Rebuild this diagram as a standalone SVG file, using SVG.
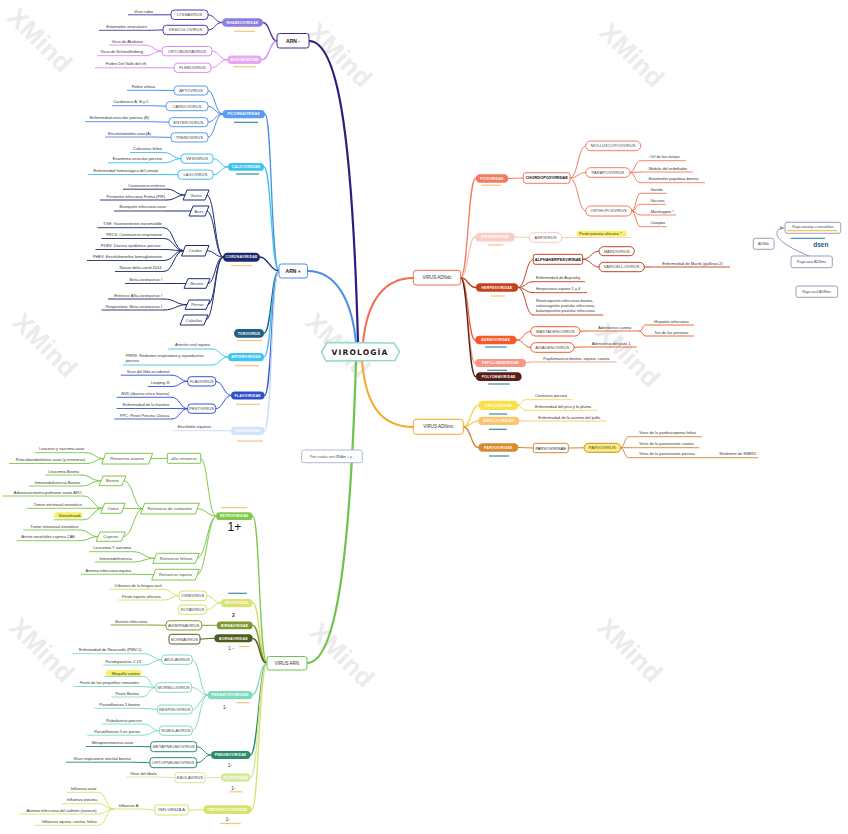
<svg xmlns="http://www.w3.org/2000/svg" width="848" height="834" viewBox="0 0 848 834">
<style>
text{font-family:"Liberation Sans",Arial,sans-serif}
.lf{font-size:4px;fill:#333;text-anchor:end}
.lr{font-size:4px;fill:#333;text-anchor:start}
.bt{font-size:4px;fill:#444;text-anchor:middle;letter-spacing:.1px}
.bb{font-size:4px;fill:#111;font-weight:bold;text-anchor:middle}
.pt{font-size:3.4px;font-weight:bold;fill:#fff;text-anchor:middle;letter-spacing:.25px}
.ul{fill:none;stroke-width:.9}
.bx{fill:#fff;stroke-width:1}
.mn{font-size:5px;font-weight:bold;fill:#222;text-anchor:middle}
.wm{font-size:26px;font-weight:bold;fill:#ebebeb;text-anchor:middle}
.n2{font-size:4.5px;fill:#333;text-anchor:middle}
.or{fill:none;stroke:#f8c47a;stroke-width:1.2}
.tl{fill:none;stroke:#3a8aa0;stroke-width:1.2}
.nt{font-size:3.6px;fill:#444;text-anchor:middle}
</style>
<defs>
<marker id="ah" viewBox="0 0 6 6" refX="5" refY="3" markerWidth="4" markerHeight="4" orient="auto"><path d="M0,0 L6,3 L0,6 Z" fill="#8796b8"/></marker>
</defs>
<rect width="848" height="834" fill="#fff"/>
<g id="watermark">
<text class="wm" x="40" y="49" transform="rotate(45 40 40)">XMind</text>
<text class="wm" x="340" y="64" transform="rotate(45 340 55)">XMind</text>
<text class="wm" x="632" y="64" transform="rotate(45 632 55)">XMind</text>
<text class="wm" x="45" y="354" transform="rotate(45 45 345)">XMind</text>
<text class="wm" x="338" y="354" transform="rotate(45 338 345)">XMind</text>
<text class="wm" x="628" y="364" transform="rotate(45 628 355)">XMind</text>
<text class="wm" x="42" y="659" transform="rotate(45 42 650)">XMind</text>
<text class="wm" x="342" y="664" transform="rotate(45 342 655)">XMind</text>
<text class="wm" x="630" y="659" transform="rotate(45 630 650)">XMind</text>
</g>

<g id="connectors" fill="none" stroke-linecap="round">
<path d="M358,343 C352,120 336,41 309,41" stroke="#2b1d7e" stroke-width="2.2"/>
<path d="M356,343 C352,300 336,271 307.5,271" stroke="#4a8fe0" stroke-width="2"/>
<path d="M356,361 C350,560 336,663 307,663" stroke="#6cc44a" stroke-width="2.2"/>
<path d="M363,343 C367,300 385,278 413.3,278" stroke="#f26d4f" stroke-width="2"/>
<path d="M362,361 C366,410 385,427 413.3,427" stroke="#f5a623" stroke-width="2"/>
<g stroke="#4b3aa8" stroke-width="1">
<path d="M277,41 C270,41 270,22.5 263,22.5" stroke-width="1.3"/>
<path d="M222,22.5 C215,22.5 215,14.8 208,14.8"/>
<path d="M222,22.5 C215,22.5 215,30 208,30"/>
<path d="M155,14.8 L171,14.8"/>
<path d="M149,30.3 C156,30.3 156,30 163,30"/>
</g>
<g stroke="#dc8cf2" stroke-width="1">
<path d="M277,41 C269.5,41 269.5,59.7 262,59.7" stroke-width="1.3"/>
<path d="M227,59.7 C219.5,59.7 219.5,51.2 212,51.2"/>
<path d="M227,59.7 C219,59.7 219,67.8 211,67.8"/>
<path d="M145,45 C153.5,45 153.5,51.2 162,51.2"/>
<path d="M145,55.7 C153.5,55.7 153.5,51.2 162,51.2"/>
<path d="M148,67.8 L174,67.8"/>
</g>
<g stroke="#4a8ee8" stroke-width="1">
<path d="M279,271 C271,271 272,114 265,114" stroke-width="1.3"/>
<path d="M222.5,114 C215,114 215,90.5 208,90.5"/>
<path d="M222.5,114 C215,114 215,106.2 208,106.2"/>
<path d="M222.5,114 C215,114 215,122.2 208,122.2"/>
<path d="M222.5,114 C215,114 215,137.4 208,137.4"/>
<path d="M157,90.3 L174,90.5"/>
<path d="M151,105.7 L166,106.2"/>
<path d="M151,121.7 L169,122.2"/>
<path d="M153,137 L171,137.4"/>
</g>
<g stroke="#40c0f0" stroke-width="1">
<path d="M279,271 C271,271 271.5,167 264,167" stroke-width="1.3"/>
<path d="M228,167 C220.5,167 220.5,158.7 213,158.7"/>
<path d="M228,167 C220.5,167 220.5,174.7 213,174.7"/>
<path d="M164,152.5 C172.5,152.5 172.5,158.7 181,158.7"/>
<path d="M164,162.8 C172.5,162.8 172.5,158.7 181,158.7"/>
<path d="M160,174.5 L178,174.7"/>
</g>
<g stroke="#1e2c6e" stroke-width="1">
<path d="M279,271 C270,271 268,257 260,257" stroke-width="1.3"/>
<path d="M223,257 C215,257 215,195 207,195"/>
<path d="M223,257 C215,257 215,211 207,211"/>
<path d="M223,257 C215,257 215,250.7 207,250.7"/>
<path d="M223,257 C215,257 215.5,283.5 208,283.5"/>
<path d="M223,257 C215,257 215.5,304.7 208,304.7"/>
<path d="M223,257 C215,257 214.5,320 206,320"/>
<path d="M167,189.2 C176,189.2 176,195 185,195"/>
<path d="M167,200 C176,200 176,195 185,195"/>
<path d="M168,211 L191,211"/>
<path d="M164,227.7 C174,227.7 173.5,250.7 183.5,250.7"/>
<path d="M164,238.5 C174,238.5 173.5,250.7 183.5,250.7"/>
<path d="M164,249.5 C174,249.5 173.5,250.7 183.5,250.7"/>
<path d="M164,260.5 C174,260.5 173.5,250.7 183.5,250.7"/>
<path d="M164,271.5 C174,271.5 173.5,250.7 183.5,250.7"/>
<path d="M164,283.5 L186,283.5"/>
<path d="M164,299 C175.5,299 175.5,304.7 187,304.7"/>
<path d="M164,310 C175.5,310 175.5,304.7 187,304.7"/>
</g>
<path d="M279,271 C271,271 271.5,333.3 264,333.3" stroke="#1f5f80" stroke-width="1.3"/>
<g stroke="#40c4f0" stroke-width="1">
<path d="M279,271 C271,271 271.5,357 264,357" stroke-width="1.3"/>
<path d="M212,349 C220,349 220,357 228,357"/>
<path d="M212,365 C220,365 220,357 228,357"/>
</g>
<g stroke="#3355d8" stroke-width="1">
<path d="M279,271 C271,271 272,395.5 264.5,395.5" stroke-width="1.3"/>
<path d="M231,395.5 C223.5,395.5 223.5,381.3 215.7,381.3"/>
<path d="M231,395.5 C223.5,395.5 223.5,408.7 215.7,408.7"/>
<path d="M172,375.2 C180,375.2 180,381.3 187.7,381.3"/>
<path d="M172,386.5 C180,386.5 180,381.3 187.7,381.3"/>
<path d="M172,397.3 C180,397.3 180,408.7 187.7,408.7"/>
<path d="M172,408.5 L187.7,408.7"/>
<path d="M172,419 C180,419 180,408.7 187.7,408.7"/>
</g>
<g stroke="#c8daf6" stroke-width="1">
<path d="M279,271 C271,271 272,430.8 264.5,430.8" stroke-width="1.3"/>
<path d="M213,430.7 L231,430.8"/>
</g>
<g stroke="#7cc84a" stroke-width="1">
<path d="M267,663.3 C259,663.3 260,516.2 252.7,516.2" stroke-width="1.3"/>
<path d="M216,516.2 C208,516.2 208,458.3 200.7,458.3"/>
<path d="M216,516.2 C208,516.2 206,508.7 197.3,508.7"/>
<path d="M216,516.2 C208,516.2 206,558.3 197.3,558.3"/>
<path d="M216,516.2 C208,516.2 206,574.7 197.3,574.7"/>
<path d="M167.3,458.3 L150.7,458.7"/>
<path d="M86,452.7 C95,452.7 95,458.7 103.7,458.7"/>
<path d="M87,463.5 C95,463.5 95,458.7 103.7,458.7"/>
<path d="M142.7,508.7 C134,508.7 133,480.8 124,480.8"/>
<path d="M142.7,508.7 L123.3,508.3"/>
<path d="M142.7,508.7 C134,508.7 133,536.7 123.3,536.7"/>
<path d="M81,475 C91,475 91,480.8 101,480.8"/>
<path d="M82,486 C91,486 91,480.8 101,480.8"/>
<path d="M84,496 C93,496 93,508.3 102.7,508.3"/>
<path d="M84,508.3 L102.7,508.3"/>
<path d="M84,519.8 C93,519.8 93,508.3 102.7,508.3"/>
<path d="M80,530 C89,530 89,536.7 98,536.7"/>
<path d="M80,540.7 C89,540.7 89,536.7 98,536.7"/>
<path d="M133,551.7 C144,551.7 144,558.3 154.7,558.3"/>
<path d="M133,562 C144,562 144,558.3 154.7,558.3"/>
<path d="M133,574.3 L153.7,574.7"/>
</g>
<g stroke="#d6e06a" stroke-width="1">
<path d="M267,663.3 C259,663.3 260,603 252.7,603" stroke-width="1.3"/>
<path d="M221,603 C213.5,603 213.5,595.8 206.7,595.8"/>
<path d="M221,603 C213.5,603 213.5,609.7 206.7,609.7"/>
<path d="M164,589.3 C171.5,589.3 171.5,595.8 179,595.8"/>
<path d="M164,600 C171.5,600 171.5,595.8 179,595.8"/>
</g>
<g stroke="#7f9b2e" stroke-width="1">
<path d="M267,663.3 C259,663.3 260,625.3 252.7,625.3" stroke-width="1.3"/>
<path d="M216.7,625.3 L201.7,625.3"/>
<path d="M150,625 L166,625.3"/>
</g>
<g stroke="#4f5b1c" stroke-width="1">
<path d="M267,663.3 C259,663.3 260,638.3 252.7,638.3" stroke-width="1.3"/>
<path d="M214.3,638.3 C207,638.3 207,639 200,639"/>
</g>
<g stroke="#80dcc0" stroke-width="1">
<path d="M267,663.3 C259,663.3 259.5,695 252,695" stroke-width="1.3"/>
<path d="M207.5,695 C200,695 200,659.7 192.3,659.7"/>
<path d="M207.5,695 C200,695 200,687.5 191.7,687.5"/>
<path d="M207.5,695 C200,695 200,709.5 192.3,709.5"/>
<path d="M207.5,695 C200,695 200,730.7 192.3,730.7"/>
<path d="M144,653.7 C153,653.7 153,659.7 161.7,659.7"/>
<path d="M144,665 C153,665 153,659.7 161.7,659.7"/>
<path d="M144,676.5 C150,676.5 150,687.5 155.7,687.5"/>
<path d="M142,686.5 L155.7,687.5"/>
<path d="M142,697 C149,697 149,687.5 155.7,687.5"/>
<path d="M142,708.3 L157.3,709.5"/>
<path d="M144,724 C151.5,724 151.5,730.7 159.3,730.7"/>
<path d="M142,735.2 C151,735.2 151,730.7 159.3,730.7"/>
</g>
<g stroke="#2d8b69" stroke-width="1">
<path d="M267,663.3 C259,663.3 258,755 250.5,755" stroke-width="1.3"/>
<path d="M211,755 C204,755 204,746.7 196.7,746.7"/>
<path d="M211,755 C204,755 204,762.7 196.7,762.7"/>
<path d="M136,746.5 L150.7,746.7"/>
<path d="M133,762.2 L150,762.7"/>
</g>
<g stroke="#d5e8a0" stroke-width="1">
<path d="M267,663.3 C259,663.3 258,777.5 250.7,777.5" stroke-width="1.3"/>
<path d="M220.7,777.5 L205,777.7"/>
<path d="M159,777 L175,777.7"/>
</g>
<g stroke="#d8e26c" stroke-width="1">
<path d="M267,663.3 C259,663.3 259,809.7 251.7,809.7" stroke-width="1.3"/>
<path d="M203.3,809.7 C196,809.7 196,810 188.3,810"/>
<path d="M141,809 L155,810"/>
<path d="M99,792.3 C106,792.3 106,809 113.3,809"/>
<path d="M99,803.7 C106,803.7 106,809 113.3,809"/>
<path d="M99,814 C106,814 106,809 113.3,809"/>
<path d="M99,825.3 C106,825.3 106,809 113.3,809"/>
</g>
<g stroke="#f47c5e" stroke-width="1">
<path d="M460.7,277.7 C468,277.7 468,178.5 475.7,178.5" stroke-width="1.3"/>
<path d="M508.3,178.5 L523.3,178"/>
<path d="M570,178 C578,178 578,145.8 585.7,145.8"/>
<path d="M570,178 C578,178 578,172.5 585.7,172.5"/>
<path d="M570,178 C578,178 578,211 585.7,211"/>
<path d="M630,172.5 C635,172.5 635,160.7 640,160.7"/>
<path d="M630,172.5 L640,172"/>
<path d="M630,172.5 C635,172.5 635,182.7 640,182.7"/>
<path d="M631.7,211 C636,211 636,193.3 640,193.3"/>
<path d="M631.7,211 C636,211 636,204.3 640,204.3"/>
<path d="M631.7,211 C636,211 636,215 640,215"/>
<path d="M631.7,211 C636,211 636,226.7 640,226.7"/>
</g>
<g stroke="#f8c8bc" stroke-width="1">
<path d="M460.7,277.7 C468,277.7 468,237 475,237" stroke-width="1.3"/>
<path d="M515,237 L529.3,237.5"/>
<path d="M561.7,237.5 L570,237.5"/>
</g>
<g stroke="#c0451e" stroke-width="1">
<path d="M460.7,277.7 C468,277.7 468,287.5 475.7,287.5" stroke-width="1.3"/>
<path d="M518.3,287.5 C525.8,287.5 525.8,259.3 533.3,259.3"/>
<path d="M518.3,287.5 C525.5,287.5 525.5,281.7 533,281.7"/>
<path d="M518.3,287.5 C525.5,287.5 525.5,292.7 533,292.7"/>
<path d="M518.3,287.5 C525.5,287.5 525.5,315 533,315"/>
<path d="M582.7,259.3 C591,259.3 591,251.2 599,251.2"/>
<path d="M582.7,259.3 C591,259.3 591,267 599,267"/>
<path d="M644.3,267 L650,267"/>
</g>
<g stroke="#f35a2c" stroke-width="1">
<path d="M460.7,277.7 C468,277.7 468,340 475,340" stroke-width="1.3"/>
<path d="M516.7,340 C523.7,340 523.7,331.3 530.7,331.3"/>
<path d="M516.7,340 C523.7,340 523.7,347.5 530.7,347.5"/>
<path d="M580,331.3 L586,331"/>
<path d="M640,331 C642.5,331 642.5,325 645,325"/>
<path d="M640,331 C642.5,331 642.5,336 645,336"/>
<path d="M574,347.5 L580,347"/>
</g>
<g stroke="#f59a88" stroke-width="1">
<path d="M460.7,277.7 C468,277.7 468,363 475,363" stroke-width="1.3"/>
<path d="M526,363 L530,362"/>
</g>
<path d="M460.7,277.7 C468,277.7 468,376.7 475.7,376.7" stroke="#5a2018" stroke-width="1.3"/>
<g stroke="#f8d84a" stroke-width="1">
<path d="M463.3,426.8 C471,426.8 471,405.3 478.3,405.3" stroke-width="1.3"/>
<path d="M518.3,405.3 C521.6,405.3 521.6,399.7 525,399.7"/>
<path d="M518.3,405.3 C521.6,405.3 521.6,410.3 525,410.3"/>
</g>
<g stroke="#f8c470" stroke-width="1">
<path d="M463.3,426.8 C471,426.8 471,420.8 478.3,420.8" stroke-width="1.3"/>
<path d="M519.3,420.8 L525,421"/>
</g>
<g stroke="#d8862e" stroke-width="1">
<path d="M463.3,426.8 C471,426.8 471,447.5 478.3,447.5" stroke-width="1.3"/>
<path d="M518.3,447.5 L533.3,448"/>
<path d="M568.3,448 L584,447.8"/>
<path d="M620.7,447.8 C624.5,447.8 624.5,436.7 628.3,436.7"/>
<path d="M620.7,447.8 L628.3,447.7"/>
<path d="M620.7,447.8 C624.5,447.8 624.5,457.7 628.3,457.7"/>
</g>
<path d="M809,256 C790,248 776,240 777,232.5 C777.5,229.5 780,228 783.5,228" stroke="#8796b8" stroke-width="1" marker-end="url(#ah)"/>
</g>

<g id="virologia"><path d="M327,342.5 L394,343 L399.5,351.5 L395,360.5 L326,361 L321.5,352 Z" fill="#fff" stroke="#8edbc5" stroke-width="1.5" stroke-linejoin="round"/><text x="360" y="355" text-anchor="middle" style="font-family:'DejaVu Sans',sans-serif;font-size:7.6px;font-weight:bold;letter-spacing:1.1px;fill:#1a1a1a">VIROLOGÍA</text></g>
<g id="nota-rnam"><rect class="bx" x="301.7" y="450" width="60.6" height="12.7" rx="2.5" stroke="#b0b8d0"/><text class="nt" x="332" y="457.7" style="fill:#555">Pon cuales son RNAm + y -</text></g>

<g id="arn-minus"><rect class="bx" x="277" y="33.5" width="32" height="14.5" rx="2.5" stroke="#3d2d96" stroke-width="1.3"/><text class="mn" x="293" y="42.6">ARN -</text></g>
<g id="rhabdoviridae"><rect x="222" y="18.2" width="41" height="8.6" rx="4.3" fill="#8c7ce6"/><text class="pt" x="242.5" y="23.7">RHABDOVIRIDAE</text><path class="or" d="M234,31.3H255"/></g>
<g id="lyssavirus"><rect class="bx" x="171" y="10" width="37" height="9.5" rx="3.5" stroke="#4b3aa8"/><text class="bt" x="189.5" y="16.2">LYSSAVIRUS</text></g>
<g id="vesiculovirus"><rect class="bx" x="163" y="25.3" width="45" height="9.4" rx="3.5" stroke="#4b3aa8"/><text class="bt" x="185.5" y="31.4">VESICULOVIRUS</text></g>
<g id="l-rabia"><text class="lf" x="153" y="12.6">Virus rabia</text><path class="ul" stroke="#4b3aa8" d="M128,14.8H155"/></g>
<g id="l-estomatitis"><text class="lf" x="147" y="27.6">Estomatitis vesiculares</text><path class="ul" stroke="#4b3aa8" d="M99,30.3H149"/></g>
<g id="bunyaviridae"><rect x="227" y="55.5" width="35" height="8.5" rx="4.2" fill="#e6a8f6"/><text class="pt" x="244.5" y="60.9">BUNYAVIRIDAE</text><path class="or" d="M233,66.7H256"/></g>
<g id="ortobunyavirus"><rect class="bx" x="162" y="46.5" width="50" height="9.3" rx="3.5" stroke="#dc8cf2"/><text class="bt" x="187" y="52.6">ORTOBUNYAVIRUS</text></g>
<g id="flebovirus"><rect class="bx" x="174" y="63.2" width="37" height="9.2" rx="3.5" stroke="#dc8cf2"/><text class="bt" x="192.5" y="69.3">FLEBOVIRUS</text></g>
<g id="l-akabane"><text class="lf" x="143" y="42.7">Virus de Akabane</text><path class="ul" stroke="#dc8cf2" d="M109,45H145"/></g>
<g id="l-schmallenberg"><text class="lf" x="143" y="53.3">Virus de Schmallenberg</text><path class="ul" stroke="#dc8cf2" d="M97,55.7H145"/></g>
<g id="l-rift"><text class="lf" x="146" y="65.2">Fiebre Del Valle del rift</text><path class="ul" stroke="#dc8cf2" d="M95,67.8H148"/></g>

<g id="arn-plus"><rect class="bx" x="279" y="264" width="28.5" height="14" rx="2.5" stroke="#4a8fe0" stroke-width="1.3"/><text class="mn" x="293.2" y="272.8">ARN +</text></g>
<g id="picornaviridae"><rect x="222.5" y="110" width="42.5" height="8.3" rx="4.1" fill="#5b9cf5"/><text class="pt" x="243.7" y="115.3">PICORNAVIRIDAE</text><path class="tl" d="M234,122.3H258"/></g>
<g id="aftovirus"><rect class="bx" x="174" y="86" width="34" height="9" rx="3.5" stroke="#5a9af0"/><text class="bt" x="191" y="92">AFTOVIRUS</text></g>
<g id="cardiovirus"><rect class="bx" x="166" y="101.7" width="42" height="9" rx="3.5" stroke="#5a9af0"/><text class="bt" x="187" y="107.6">CARDIOVIRUS</text></g>
<g id="enterovirus"><rect class="bx" x="169" y="117.7" width="39" height="9" rx="3.5" stroke="#5a9af0"/><text class="bt" x="188.5" y="123.6">ENTEROVIRUS</text></g>
<g id="tremovirus"><rect class="bx" x="171" y="132.8" width="37" height="9.2" rx="3.5" stroke="#5a9af0"/><text class="bt" x="189.5" y="138.8">TREMOVIRUS</text></g>
<g id="l-aftosa"><text class="lf" x="155" y="87.6">Fiebre aftosa</text><path class="ul" stroke="#4a8ee8" d="M127,90.3H157"/></g>
<g id="l-cardio"><text class="lf" x="149" y="103.3">Cardiovirus A, B y C</text><path class="ul" stroke="#4a8ee8" d="M112,105.7H151"/></g>
<g id="l-vesicular"><text class="lf" x="149" y="119.2">Enfermedad vesicular porcina (B)</text><path class="ul" stroke="#4a8ee8" d="M85,121.7H151"/></g>
<g id="l-encefalomielitis"><text class="lf" x="151" y="134.5">Encefalomielitis aviar(A)</text><path class="ul" stroke="#4a8ee8" d="M105,137H153"/></g>
<g id="caliciviridae"><rect x="228" y="163" width="36" height="7.8" rx="3.9" fill="#3ec3f5"/><text class="pt" x="246" y="168.1">CALICIVIRIDAE</text><path class="tl" d="M236,174H259"/></g>
<g id="vesivirus"><rect class="bx" x="181" y="154" width="32" height="9.3" rx="3.5" stroke="#40c0f0"/><text class="bt" x="197" y="160.1">VESIVIRUS</text></g>
<g id="lagovirus"><rect class="bx" x="178" y="170" width="35" height="9.3" rx="3.5" stroke="#40c0f0"/><text class="bt" x="195.5" y="176.1">LAGOVIRUS</text></g>
<g id="l-calicifelino"><text class="lf" x="162" y="150">Calicivirus felino</text><path class="ul" stroke="#40c0f0" d="M130,152.5H164"/></g>
<g id="l-exantema"><text class="lf" x="162" y="160.4">Exantema vesicular porcino</text><path class="ul" stroke="#40c0f0" d="M108,162.8H164"/></g>
<g id="l-hemorragica"><text class="lf" x="158" y="171.8">Enfermedad hemorrágica del conejo</text><path class="ul" stroke="#40c0f0" d="M88,174.5H160"/></g>

<g id="coronaviridae"><rect x="223" y="252.7" width="37" height="9" rx="4.5" fill="#1b2a6b"/><text class="pt" x="241.5" y="258.4">CORONAVIRIDAE</text><path class="or" d="M231,265.5H252"/></g>
<g id="gatos"><polygon class="bx" points="187,190 209,190 205,200 183,200" stroke="#1e2c6e"/><text class="bt" x="196" y="196.5">Gatos</text></g>
<g id="aves"><polygon class="bx" points="193,206 209,206 205,216 189,216" stroke="#1e2c6e"/><text class="bt" x="199" y="212.5">Aves</text></g>
<g id="cerdos"><polygon class="bx" points="185.5,245.5 209,245.5 205,256 181.5,256" stroke="#1e2c6e"/><text class="bt" x="195.2" y="252.2">Cerdos</text></g>
<g id="bovino-c"><polygon class="bx" points="188,278.7 210,278.7 206,288.3 184,288.3" stroke="#1e2c6e"/><text class="bt" x="197" y="285">Bovino</text></g>
<g id="perros"><polygon class="bx" points="189,300 210,300 206,309.3 185,309.3" stroke="#1e2c6e"/><text class="bt" x="197.5" y="306.1">Perros</text></g>
<g id="caballos"><polygon class="bx" points="184,315 208,315 204,325 180,325" stroke="#1e2c6e"/><text class="bt" x="194" y="321.5">Caballos</text></g>
<g id="l-corent"><text class="lf" x="165" y="186.7">Coronavirus entérico</text><path class="ul" stroke="#1e2c6e" d="M123,189.2H167"/></g>
<g id="l-pif"><text class="lf" x="165" y="197.5">Peritonitis infecciosa Felina (PIF)</text><path class="ul" stroke="#1e2c6e" d="M100,200H167"/></g>
<g id="l-bronquitis"><text class="lf" x="166" y="208.4">Bronquitis infecciosa aviar</text><path class="ul" stroke="#1e2c6e" d="M114,211H168"/></g>
<g id="l-tge"><text class="lf" x="162" y="225.2">TGE: Gastroenteritis transmisible</text><path class="ul" stroke="#1e2c6e" d="M97.5,227.7H164"/></g>
<g id="l-prcv"><text class="lf" x="162" y="236">PRCV: Coronavirus respiratorio</text><path class="ul" stroke="#1e2c6e" d="M101.5,238.5H164"/></g>
<g id="l-pdev"><text class="lf" x="160.5" y="247">PDEV: Diarrea epidémica porcina</text><path class="ul" stroke="#1e2c6e" d="M95.5,249.5H164"/></g>
<g id="l-phev"><text class="lf" x="162" y="258">PHEV: Encefalomielitis hemaglutinante</text><path class="ul" stroke="#1e2c6e" d="M87,260.5H164"/></g>
<g id="l-delta"><text class="lf" x="161.5" y="269">Nuevo delta-covid 2014</text><path class="ul" stroke="#1e2c6e" d="M115,271.5H164"/></g>
<g id="l-betacor"><text class="lf" x="162" y="281">Beta-coronavirus I</text><path class="ul" stroke="#1e2c6e" d="M125,283.5H164"/></g>
<g id="l-alfacor"><text class="lf" x="162" y="296.5">Entérico: Alfa-coronavirus I</text><path class="ul" stroke="#1e2c6e" d="M108,299H164"/></g>
<g id="l-respcor"><text class="lf" x="162" y="307.5">Respiratorio: Beta-coronavirus I</text><path class="ul" stroke="#1e2c6e" d="M101.5,310H164"/></g>

<g id="torovirus"><rect x="234" y="329" width="30" height="8.7" rx="4.3" fill="#1f5f80"/><text class="pt" x="249" y="334.5">TOROVIRUS</text><path class="or" d="M237,340.5H262"/></g>
<g id="arteriviridae"><rect x="228" y="353" width="36" height="8.3" rx="4.1" fill="#42c4f2"/><text class="pt" x="246" y="358.3">ARTERIVIRIDAE</text><path class="or" d="M235,365.7H259"/></g>
<g id="l-arteritis"><text class="lf" x="210" y="346.4">Arteritis viral equina</text><path class="ul" stroke="#40c4f0" d="M168,349H212"/></g>
<g id="l-prrs"><text class="lr" x="125.7" y="357.2">PRRS: Síndrome respiratorio y reproductivo</text><text class="lr" x="125.7" y="362.4">porcino</text><path class="ul" stroke="#40c4f0" d="M122.7,365H212"/></g>
<g id="flaviviridae"><rect x="231" y="391.5" width="33.5" height="8" rx="4" fill="#2e4fc9"/><text class="pt" x="247.7" y="396.7">FLAVIVIRIDAE</text><path class="or" d="M236,404.3H260"/></g>
<g id="flavivirus"><rect class="bx" x="187.7" y="376.7" width="28" height="9.3" rx="3.5" stroke="#3355d8"/><text class="bt" x="201.7" y="382.8">FLAVIVIRUS</text></g>
<g id="pestivirus"><rect class="bx" x="187.7" y="404" width="28" height="9.3" rx="3.5" stroke="#3355d8"/><text class="bt" x="201.7" y="410.1">PESTIVIRUS</text></g>
<g id="l-nilo"><text class="lf" x="169.3" y="372.7">Virus del Nilo occidental</text><path class="ul" stroke="#3355d8" d="M120.7,375.2H172"/></g>
<g id="l-looping"><text class="lf" x="169.3" y="384">Looping Ill</text><path class="ul" stroke="#3355d8" d="M147.7,386.5H172"/></g>
<g id="l-bvd"><text class="lf" x="169.3" y="394.8">BVD (diarrea vírica bovina)</text><path class="ul" stroke="#3355d8" d="M116.7,397.3H172"/></g>
<g id="l-frontera"><text class="lf" x="169.3" y="406">Enfermedad de la frontera</text><path class="ul" stroke="#3355d8" d="M116.7,408.5H172"/></g>
<g id="l-ppc"><text class="lf" x="169.3" y="416.5">PPC: Peste Porcina Clásica</text><path class="ul" stroke="#3355d8" d="M114.3,419H172"/></g>
<g id="togaviridae"><rect x="231" y="426.7" width="33.5" height="8.3" rx="4.1" fill="#d4e2f9"/><text class="pt" x="247.7" y="432">TOGAVIRIDAE</text><path class="or" d="M237,441H263"/></g>
<g id="l-encefalitis"><text class="lf" x="211" y="428.2">Encefalitis equinas</text><path class="ul" stroke="#c8daf6" d="M172.7,430.7H213"/></g>

<g id="virus-arn"><rect class="bx" x="267" y="656.5" width="40" height="13.5" rx="2.5" stroke="#6cc44a" stroke-width="1.3"/><text class="n2" x="287" y="664.9">VIRUS ARN</text></g>
<g id="retroviridae"><rect x="216" y="512.3" width="36.7" height="7.8" rx="3.9" fill="#7fca4c"/><text class="pt" x="234.3" y="517.4">RETROVIRIDAE</text><path class="or" d="M220.7,507.7H247.3"/><text x="234.3" y="530.5" text-anchor="middle" style="font-size:12px;fill:#111">1+</text></g>
<g id="alfa-retrovirus"><rect class="bx" x="167.3" y="453.3" width="33.4" height="10" rx="0.8" stroke="#7cc84a"/><text class="bt" x="184" y="459.8">alfa-retrovirus</text></g>
<g id="retro-aviares"><polygon class="bx" points="105.7,453.3 152.7,453.3 148.7,464 101.7,464" stroke="#7cc84a"/><text class="bt" x="127.2" y="460.1">Retrovirus aviares</text></g>
<g id="retro-rumiantes"><polygon class="bx" points="144.7,503.3 199.3,503.3 195.3,514 140.7,514" stroke="#7cc84a"/><text class="bt" x="170" y="510.1">Retrovirus de rumiantes</text></g>
<g id="retro-felinos"><polygon class="bx" points="156.7,553.3 199.3,553.3 195.3,563.3 152.7,563.3" stroke="#7cc84a"/><text class="bt" x="176" y="559.8">Retrovirus felinos</text></g>
<g id="retro-equino"><polygon class="bx" points="155.7,569.3 199.3,569.3 195.3,580 151.7,580" stroke="#7cc84a"/><text class="bt" x="175.5" y="576.1">Retrovirus equino</text></g>
<g id="bovino-r"><polygon class="bx" points="103,476 126,476 122,485.7 99,485.7" stroke="#7cc84a"/><text class="bt" x="112.5" y="482.3">Bovino</text></g>
<g id="ovino"><polygon class="bx" points="104.7,503.3 125.3,503.3 121.3,513.3 100.7,513.3" stroke="#7cc84a"/><text class="bt" x="113" y="509.8">Ovino</text></g>
<g id="caprino"><polygon class="bx" points="100,532 125.3,532 121.3,541.3 96,541.3" stroke="#7cc84a"/><text class="bt" x="110.7" y="538.1">Caprino</text></g>
<g id="l-leucosis"><text class="lf" x="84.3" y="450.2">Leucosis y sarcoma aviar</text><path class="ul" stroke="#7cc84a" d="M35,452.7H86"/></g>
<g id="l-reticulo"><text class="lf" x="85" y="461">Reticuloendoteliosis aviar (γ-retrovirus)</text><path class="ul" stroke="#7cc84a" d="M9,463.5H87"/></g>
<g id="l-leucemiabov"><text class="lf" x="79" y="472.5">Leucemia Bovina</text><path class="ul" stroke="#7cc84a" d="M45,475H81"/></g>
<g id="l-inmunobov"><text class="lf" x="80" y="483.5">Inmunodeficiencia Bovina</text><path class="ul" stroke="#7cc84a" d="M29,486H82"/></g>
<g id="l-apo"><text class="lf" x="81.7" y="493.5">Adenocarcinoma pulmonar ovino APO</text><path class="ul" stroke="#7cc84a" d="M2.7,496H84"/></g>
<g id="l-tumor1"><text class="lf" x="81.7" y="505.6">Tumor intranasal enzoótico</text><path class="ul" stroke="#7cc84a" d="M26.7,508.3H84"/></g>
<g id="l-visna"><rect x="54.3" y="512.3" width="28" height="6.3" rx="2.5" fill="#f6f06a"/><text class="lf" x="80.5" y="516.9">Visna/maedi</text><path class="ul" stroke="#7cc84a" d="M54,519.8H84"/></g>
<g id="l-tumor2"><text class="lf" x="78.3" y="527.5">Tumor intranasal enzoótico</text><path class="ul" stroke="#7cc84a" d="M23.3,530H80"/></g>
<g id="l-cae"><text class="lf" x="75" y="538.2">Artritis encefalitis caprina CAE</text><path class="ul" stroke="#7cc84a" d="M16.7,540.7H80"/></g>
<g id="l-leucfel"><text class="lf" x="131" y="549.2">Leucemia Y sarcoma</text><path class="ul" stroke="#7cc84a" d="M89.3,551.7H133"/></g>
<g id="l-inmunofel"><text class="lf" x="131.7" y="559.5">Inmunodeficiencia</text><path class="ul" stroke="#7cc84a" d="M95,562H133"/></g>
<g id="l-anemiaeq"><text class="lf" x="131" y="571.7">Anemia infecciosa equina</text><path class="ul" stroke="#7cc84a" d="M81,574.3H133"/></g>

<g id="reoviridae"><rect x="221" y="599" width="31.7" height="8.3" rx="4.1" fill="#d9e36d"/><text class="pt" x="236.8" y="604.3">REOVIRIDAE</text><path class="tl" d="M228.3,593.3H246.7"/><text x="233.3" y="617" text-anchor="middle" style="font-size:5px;font-weight:bold;fill:#333">2</text></g>
<g id="orbivirus"><rect class="bx" x="179" y="591" width="27.7" height="9.7" rx="3.5" stroke="#d6e06a"/><text class="bt" x="192.8" y="597.3">ORBIVIRUS</text></g>
<g id="rotavirus"><rect class="bx" x="178.3" y="605" width="28.4" height="9.3" rx="3.5" stroke="#d6e06a"/><text class="bt" x="192.5" y="611.1">ROTAVIRUS</text></g>
<g id="l-lenguaazul"><text class="lf" x="161.7" y="586.8">Orbivirus de la lengua azul</text><path class="ul" stroke="#d6e06a" d="M109.3,589.3H164"/></g>
<g id="l-pesteequina"><text class="lf" x="160.7" y="597.5">Peste equina africana</text><path class="ul" stroke="#d6e06a" d="M118.3,600H164"/></g>
<g id="birnaviridae"><rect x="216.7" y="621.5" width="36" height="7.8" rx="3.9" fill="#7f9b2e"/><text class="pt" x="234.7" y="626.6">BIRNAVIRIDAE</text></g>
<g id="avibirnavirus"><rect class="bx" x="166" y="620.7" width="35.7" height="9.3" rx="3.5" stroke="#7f9b2e"/><text class="bt" x="183.8" y="626.8">AVIBIRNAVIRUS</text></g>
<g id="l-bursitis"><text class="lf" x="147.3" y="622.5">Bursitis infecciosa</text><path class="ul" stroke="#7f9b2e" d="M110.7,625H150"/></g>
<g id="bornaviridae"><rect x="214.3" y="634.3" width="38.4" height="8" rx="4" fill="#4f5b1c"/><text class="pt" x="233.5" y="639.5">BORNAVIRIDAE</text><text class="n2" x="231.5" y="649.5">1 −</text><path class="or" d="M239,646.5H249.3"/></g>
<g id="bornavirus"><rect class="bx" x="169" y="634.3" width="31" height="9.7" rx="2.5" stroke="#4f5b1c" stroke-width="1.4"/><text class="bt" x="184.5" y="640.6">BORNAVIRUS</text></g>

<g id="paramyxoviridae"><rect x="207.5" y="691" width="45" height="8.3" rx="4.1" fill="#7edcbd"/><text class="pt" x="230" y="696.3">PARAMYXOVIRIDAE</text><path class="or" d="M236.5,702.7H249.5"/><text class="n2" x="225" y="708.5">1-</text></g>
<g id="avulavirus"><rect class="bx" x="161.7" y="655" width="30.6" height="9.3" rx="3.5" stroke="#80dcc0"/><text class="bt" x="177" y="661.1">AVULAVIRUS</text></g>
<g id="morbillivirus"><rect class="bx" x="155.7" y="682.7" width="36" height="9.6" rx="3.5" stroke="#80dcc0"/><text class="bt" x="173.7" y="688.9">MORBILLIVIRUS</text></g>
<g id="respirovirus"><rect class="bx" x="157.3" y="705" width="35" height="9" rx="3.5" stroke="#80dcc0"/><text class="bt" x="174.8" y="710.9">RESPIROVIRUS</text></g>
<g id="rubulavirus"><rect class="bx" x="159.3" y="726" width="33" height="9.3" rx="3.5" stroke="#80dcc0"/><text class="bt" x="175.8" y="732.1">RUBULAVIRUS</text></g>
<g id="l-newcastle"><text class="lf" x="141.7" y="651.2">Enfermedad de Newcastle (PMV-1)</text><path class="ul" stroke="#80dcc0" d="M71.7,653.7H144"/></g>
<g id="l-paramyxo213"><text class="lf" x="141" y="662.5">Paramyxovirus 2-13</text><path class="ul" stroke="#80dcc0" d="M103.3,665H144"/></g>
<g id="l-moquillo"><rect x="106" y="670.2" width="35.7" height="5.8" rx="2.5" fill="#f6f06a"/><text class="lf" x="139.5" y="674.6">Moquillo canino</text><path class="ul" stroke="#80dcc0" d="M104,676.5H144"/></g>
<g id="l-ppr"><text class="lf" x="139" y="684.2">Peste de los pequeños rumiantes</text><path class="ul" stroke="#80dcc0" d="M73.3,686.5H142"/></g>
<g id="l-pestebov"><text class="lf" x="139" y="694.5">Peste Bovina</text><path class="ul" stroke="#80dcc0" d="M111.7,697H142"/></g>
<g id="l-parainf3"><text class="lf" x="140" y="705.9">Parainfluenza 3 bovino</text><path class="ul" stroke="#80dcc0" d="M94.3,708.3H142"/></g>
<g id="l-rubulapor"><text class="lf" x="141.7" y="721.5">Rubulavirus porcino</text><path class="ul" stroke="#80dcc0" d="M101.7,724H144"/></g>
<g id="l-parainf5"><text class="lf" x="140" y="732.7">Parainfluenza 5 en perros</text><path class="ul" stroke="#80dcc0" d="M87.3,735.2H142"/></g>
<g id="pneumoviridae"><rect x="211" y="751" width="39.5" height="8" rx="4" fill="#2d8b69"/><text class="pt" x="230.7" y="756.2">PNEUMOVIRIDAE</text><text class="n2" x="230" y="766.5">1-</text></g>
<g id="metapneumovirus"><rect class="bx" x="150.7" y="741.7" width="46" height="10" rx="3" stroke="#2d8b69" stroke-width="1.3"/><text class="bt" x="173.7" y="748.1">METAPNEUMOVIRUS</text></g>
<g id="ortopneumovirus"><rect class="bx" x="150" y="757.7" width="46.7" height="10" rx="3" stroke="#2d8b69" stroke-width="1.3"/><text class="bt" x="173.3" y="764.1">ORTOPNEUMOVIRUS</text></g>
<g id="l-metaaviar"><text class="lf" x="133.3" y="744">Metapneumovirus aviar</text><path class="ul" stroke="#2d8b69" d="M86,746.5H136"/></g>
<g id="l-vrsb"><text class="lf" x="130.7" y="759.7">Virus respiratorio sincitial bovino</text><path class="ul" stroke="#2d8b69" d="M66,762.2H133"/></g>
<g id="filoviridae"><rect x="220.7" y="773.3" width="30" height="8.4" rx="4.2" fill="#d6e9a0"/><text class="pt" x="235.7" y="778.7">FILOVIRIDAE</text><text class="n2" x="233.3" y="789.5">1-</text><path class="or" d="M229.3,791.8H242.3"/></g>
<g id="ebolavirus"><rect class="bx" x="175" y="772.7" width="30" height="10" rx="2.5" stroke="#d6e9a0"/><text class="bt" x="190" y="779.1">EBOLAVIRUS</text></g>
<g id="l-ebola"><text class="lf" x="156.7" y="774.5">Virus del ébola</text><path class="ul" stroke="#d5e8a0" d="M126.7,777H159"/></g>
<g id="orthomyxoviridae"><rect x="203.3" y="805.3" width="48.4" height="8.7" rx="4.3" fill="#d8e26c"/><text class="pt" x="227.5" y="810.8">ORTHOMYXOVIRIDAE</text><text class="n2" x="227.7" y="821">1-</text><path class="or" d="M220,823.5H240.7"/></g>
<g id="influenza-a-box"><rect class="bx" x="155" y="805" width="33.3" height="10" rx="2" stroke="#d8e26c"/><text class="bt" x="171.7" y="811.4">INFLUENZA A</text></g>
<g id="influenza-a"><text class="lf" x="138.3" y="806.5">Influenza A</text><path class="ul" stroke="#d8e26c" d="M113.3,809H141"/></g>
<g id="l-infaviar"><text class="lf" x="96.7" y="789.8">Influenza aviar</text><path class="ul" stroke="#d8e26c" d="M66.7,792.3H99"/></g>
<g id="l-infporcina"><text class="lf" x="97.3" y="801.2">Influenza porcina</text><path class="ul" stroke="#d8e26c" d="M61.7,803.7H99"/></g>
<g id="l-isavirus"><text class="lf" x="96.7" y="811.5">Anemia infecciosa del salmón (isavirus)</text><path class="ul" stroke="#d8e26c" d="M19.3,814H99"/></g>
<g id="l-infequina"><text class="lf" x="96.7" y="822.8">Influenza equina, canina, felina</text><path class="ul" stroke="#d8e26c" d="M35,825.3H99"/></g>

<g id="virus-adndc"><rect class="bx" x="413.3" y="270.3" width="47.4" height="14.7" rx="3" stroke="#f26d4f" stroke-width="1.3"/><text class="n2" x="437" y="279.3">VIRUS ADNdc</text></g>
<g id="poxviridae"><rect x="475.7" y="174.3" width="32.6" height="8.4" rx="4.2" fill="#f27a5d"/><text class="pt" x="492" y="179.7">POXVIRIDAE</text><path class="or" d="M481.7,185.3H500.7"/></g>
<g id="chordopoxviridae"><rect class="bx" x="523.3" y="172.7" width="46.7" height="10.6" rx="2.5" stroke="#f47c5e"/><text class="bb" x="546.7" y="179.4">CHORDOPOXVIRIDAE</text></g>
<g id="molluscopoxvirus"><rect class="bx" x="585.7" y="141" width="55" height="9.7" rx="4.8" stroke="#f47c5e"/><text class="bt" x="613.2" y="147.3">MOLLUSCOPOXVIRUS</text></g>
<g id="parapoxvirus"><rect class="bx" x="585.7" y="167.7" width="44.3" height="9.6" rx="4.8" stroke="#f47c5e"/><text class="bt" x="607.8" y="174">PARAPOXVIRUS</text></g>
<g id="orthopoxvirus"><rect class="bx" x="585.7" y="206" width="46" height="10" rx="5" stroke="#f47c5e"/><text class="bt" x="608.7" y="212.4">ORTHOPOXVIRUS</text></g>
<g id="l-orf"><text class="lr" x="647.3" y="158.2">- Orf de las ovejas</text><path class="ul" stroke="#f47c5e" d="M640,160.7H686"/></g>
<g id="l-nodulo"><text class="lr" x="647.3" y="169.5">-Nódulo del ordeñador</text><path class="ul" stroke="#f47c5e" d="M640,172H693.3"/></g>
<g id="l-estpap"><text class="lr" x="647.3" y="180.2">-Estomatitis papulosa bovina</text><path class="ul" stroke="#f47c5e" d="M640,182.7H705"/></g>
<g id="l-variola"><text class="lr" x="649.3" y="190.8">-Variola</text><path class="ul" stroke="#f47c5e" d="M640,193.3H666.7"/></g>
<g id="l-vaccina"><text class="lr" x="649.3" y="201.8">-Vaccina</text><path class="ul" stroke="#f47c5e" d="M640,204.3H666"/></g>
<g id="l-monkeypox"><text class="lr" x="649.3" y="212.5">-Monkeypox *</text><path class="ul" stroke="#f47c5e" d="M640,215H676"/></g>
<g id="l-cowpox"><text class="lr" x="649.3" y="224.2">-Cowpox</text><path class="ul" stroke="#f47c5e" d="M640,226.7H666.7"/></g>
<g id="asfarviridae"><rect x="475" y="232.7" width="40" height="8.8" rx="4.4" fill="#f9cfc4"/><text class="pt" x="495" y="238.3">ASFARVIRIDAE</text><path class="or" d="M488.3,245H503.3"/></g>
<g id="asfivirus"><rect class="bx" x="529.3" y="232.7" width="32.4" height="9.6" rx="4.5" stroke="#f8c8bc"/><text class="bt" x="545.5" y="238.9">ASFIVIRUS</text></g>
<g id="l-ppa"><rect x="576.7" y="230.8" width="50" height="5.8" rx="2.5" fill="#f6f06a"/><text class="lr" x="579" y="235.1">Peste porcina africana *</text><path class="ul" stroke="#f8c8bc" d="M570,237.5H630"/></g>
<g id="herpesviridae"><rect x="475.7" y="283.3" width="42.6" height="8.4" rx="4.2" fill="#c3431b"/><text class="pt" x="497" y="288.7">HERPESVIRIDAE</text><path class="or" d="M491,296H505"/></g>
<g id="alphaherpesvirinae"><rect class="bx" x="533.3" y="254.3" width="49.4" height="10" rx="2" stroke="#c0451e"/><text class="bb" x="558" y="260.8">ALPHAHERPESVIRINAE</text></g>
<g id="mardivirus"><rect class="bx" x="599" y="246.7" width="35.3" height="9" rx="4.5" stroke="#c0451e"/><text class="bt" x="616.7" y="252.6">MARDIVIRUS</text></g>
<g id="varicellovirus"><rect class="bx" x="599" y="262.3" width="45.3" height="9.4" rx="4.7" stroke="#c0451e"/><text class="bt" x="621.7" y="268.4">VARICELLOVIRUS</text></g>
<g id="l-marek"><text class="lr" x="662.3" y="264.5">Enfermedad de Marek (gallinas 2)</text><path class="ul" stroke="#c0451e" d="M650,267H730"/></g>
<g id="l-aujeszky"><text class="lr" x="536" y="279.3">Enfermedad de Aujeszky</text><path class="ul" stroke="#c0451e" d="M533,281.7H585"/></g>
<g id="l-herpeq"><text class="lr" x="536" y="290.2">Herpesvirus equino 1 y 4</text><path class="ul" stroke="#c0451e" d="M533,292.7H587"/></g>
<g id="l-ibr"><text class="lr" x="536" y="301.5">Rinotraqueitis infecciosa bovina,</text><text class="lr" x="536" y="306.9">vulvovaginitis pustular infecciosa,</text><text class="lr" x="536" y="312.3">balanopostitis pustular infecciosa</text><path class="ul" stroke="#c0451e" d="M533,315H603.3"/></g>
<g id="adenoviridae"><rect x="475" y="335.7" width="41.7" height="8.6" rx="4.3" fill="#f4592b"/><text class="pt" x="495.8" y="341.2">ADENOVIRIDAE</text><path class="tl" d="M485,347H506.7"/></g>
<g id="mastadenovirus"><rect class="bx" x="530.7" y="326.7" width="49.3" height="9.3" rx="4.6" stroke="#f35a2c"/><text class="bt" x="555.3" y="332.8">MASTADENOVIRUS</text></g>
<g id="aviadenovirus"><rect class="bx" x="530.7" y="342.7" width="43.3" height="9.6" rx="4.8" stroke="#f35a2c"/><text class="bt" x="552.3" y="349">AVIADENOVIRUS</text></g>
<g id="adenovirus-canino"><text class="lr" x="598.3" y="328.5">Adenovirus canino</text><path class="ul" stroke="#f35a2c" d="M586,331H640"/></g>
<g id="l-hepatitis"><text class="lr" x="654.3" y="322.5">Hepatitis infecciosa</text><path class="ul" stroke="#f35a2c" d="M645,325H694"/></g>
<g id="l-tos"><text class="lr" x="654.3" y="333.5">Tos de las perreras</text><path class="ul" stroke="#f35a2c" d="M645,336H694"/></g>
<g id="l-pato"><text class="lr" x="591.7" y="344.5">Adenovirus del pato 1</text><path class="ul" stroke="#f35a2c" d="M580,347H636.7"/></g>
<g id="papillomaviridae"><rect x="475" y="359" width="51" height="8" rx="4" fill="#f79683"/><text class="pt" x="500.5" y="364.2">PAPILLOMAVIRIDAE</text><path class="tl" d="M487.3,370.3H507.3"/></g>
<g id="l-papiloma"><text class="lr" x="543.3" y="359.5">Papilomavirus bovino, equino, canino</text><path class="ul" stroke="#f59a88" d="M530,362H616.7"/></g>
<g id="polyomaviridae"><rect x="475.7" y="372.3" width="46" height="8.7" rx="4.3" fill="#5a1f17"/><text class="pt" x="498.7" y="377.8">POLYOMAVIRIDAE</text><path class="tl" d="M488.3,384H510"/></g>

<g id="virus-adnmc"><rect class="bx" x="413.3" y="419.3" width="50" height="15" rx="3" stroke="#f5a623" stroke-width="1.3"/><text class="n2" x="438.3" y="428.4">VIRUS ADNmc</text></g>
<g id="circoviridae"><rect x="478.3" y="400.7" width="40" height="9.3" rx="4.6" fill="#f9e04b"/><text class="pt" x="498.3" y="406.5">CIRCOVIRIDAE</text><path class="tl" d="M489,414H507.3"/></g>
<g id="l-circoporcino"><text class="lr" x="535" y="397.2">Circovirus porcino</text><path class="ul" stroke="#f8d84a" d="M525,399.7H572.7"/></g>
<g id="l-pico"><text class="lr" x="535" y="407.8">Enfermedad del pico y la pluma</text><path class="ul" stroke="#f8d84a" d="M525,410.3H597.3"/></g>
<g id="anelloviridae"><rect x="478.3" y="416.7" width="41" height="8.3" rx="4.1" fill="#fbc56c"/><text class="pt" x="498.8" y="422">ANELLOVIRIDAE</text><path class="tl" d="M489,429.3H506.7"/></g>
<g id="l-anemiapollo"><text class="lr" x="538.3" y="418.5">Enfermedad de la anemia del pollo</text><path class="ul" stroke="#f8c470" d="M525,421H606.7"/></g>
<g id="parvoviridae"><rect x="478.3" y="443.3" width="40" height="8.4" rx="4.2" fill="#d9892e"/><text class="pt" x="498.3" y="448.7">PARVOVIRIDAE</text><path class="tl" d="M489,456H509"/></g>
<g id="parvovirinae"><rect class="bx" x="533.3" y="443.3" width="35" height="9.4" rx="2" stroke="#d8862e"/><text class="bt" x="550.8" y="449.5" style="fill:#222">PARVOVIRINAE</text></g>
<g id="parvovirus"><rect x="584" y="443.3" width="36.7" height="9" rx="4.5" fill="#f6ee7a" stroke="#d8862e" stroke-width="1"/><text class="bt" x="602.3" y="449.3">PARVOVIRUS</text></g>
<g id="l-panleuco"><text class="lr" x="639.3" y="434">Virus de la panleucopenia felina</text><path class="ul" stroke="#d8862e" d="M628.3,436.7H701.7"/></g>
<g id="l-parvocan"><text class="lr" x="639.3" y="445.2">Virus de la parvovirosis canina</text><path class="ul" stroke="#d8862e" d="M628.3,447.7H699.3"/></g>
<g id="l-parvopor"><text class="lr" x="639.3" y="455.2">Virus de la parvovirosis porcina</text><path class="ul" stroke="#d8862e" d="M628.3,457.7H702"/></g>
<g id="l-smedi"><text class="lr" x="719.3" y="455.2">Síndrome de SMEDI</text><path class="ul" stroke="#d8862e" d="M702,457.7H758.3"/></g>

<g id="nota-adndc"><rect class="bx" x="753.3" y="238.3" width="20.7" height="11" rx="2" stroke="#9aa0b8"/><text class="nt" x="763.6" y="245">ADNdc</text></g>
<g id="nota-naranja"><rect class="bx" x="785" y="222.3" width="55.7" height="11" rx="2" stroke="#9aa0b8"/><text class="nt" x="812.8" y="228.3">Raya naranja = envueltos</text><path d="M786.7,230.7H837.3" stroke="#f5b030" stroke-width="1"/></g>
<g id="nota-desn"><path d="M790.7,238.3H825" stroke="#2a7a9a" stroke-width="1"/><text x="820.8" y="246.5" text-anchor="middle" style="font-size:6.5px;font-weight:bold;fill:#1a5a78">dsen</text></g>
<g id="nota-azul1"><rect class="bx" x="791" y="256" width="41.3" height="11.7" rx="2" stroke="#9aa0b8"/><text class="nt" x="811.7" y="263.1">Raya azul ADNmc</text></g>
<g id="nota-azul2"><rect class="bx" x="796" y="286" width="41.7" height="11.3" rx="2" stroke="#9aa0b8"/><text class="nt" x="816.8" y="292.9">Raya azul ADNmc</text></g>
</svg>
